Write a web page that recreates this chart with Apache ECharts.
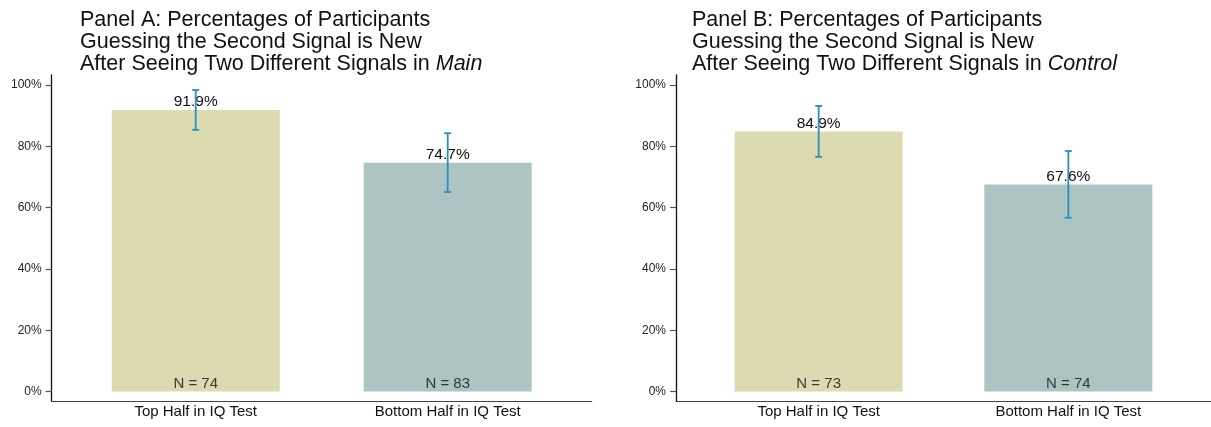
<!DOCTYPE html>
<html>
<head>
<meta charset="utf-8">
<title>Second signal guesses by IQ half</title>
<script src="https://cdn.jsdelivr.net/npm/echarts@6/dist/echarts.min.js"></script>
<style>
  html, body { margin: 0; padding: 0; background: #ffffff; }
  #chart { width: 1211px; height: 427px; }
</style>
</head>
<body>
<div id="chart"></div>
<script>
// Groups on the x axis
const categories = ['Top Half in IQ Test', 'Bottom Half in IQ Test'];
const yTicks = [0, 20, 40, 60, 80, 100];

// Panel A: Main treatment
const mainShare = [91.9, 74.7];
const mainLow = [85.4, 65.1];
const mainHigh = [98.4, 84.3];
const mainN = [74, 83];

// Panel B: Control treatment
const controlShare = [84.9, 67.6];
const controlLow = [76.6, 56.7];
const controlHigh = [93.2, 78.5];
const controlN = [73, 74];

const barColors = ['#dcdab0', '#adc5c2'];
const errColor = '#2b8fba';
const FONT = '"Liberation Sans", Arial, Helvetica, sans-serif';

const chart = echarts.init(document.getElementById('chart'), null, { renderer: 'canvas' });

const gridLefts = [51.7, 676];
const titleLefts = [75, 687];

function panelTitle(idx, word) {
  return {
    left: titleLefts[idx],
    top: 4,
    text: 'Panel ' + (idx === 0 ? 'A' : 'B') + ': Percentages of Participants\n' +
          'Guessing the Second Signal is New\n' +
          'After Seeing Two Different Signals in {it|' + word + '}',
    textStyle: {
      fontFamily: FONT,
      fontSize: 21.5,
      fontWeight: 'normal',
      color: '#111',
      lineHeight: 22,
      rich: {
        it: { fontFamily: FONT, fontSize: 21.5, fontStyle: 'italic', color: '#111', lineHeight: 22 }
      }
    }
  };
}

function panelSeries(idx, share, low, high, n) {
  const pos = categories.map((_, i) => i + 1);
  return [
    {
      type: 'bar',
      xAxisIndex: idx,
      yAxisIndex: idx,
      barWidth: 168,
      data: pos.map((x, i) => ({ value: [x, share[i]], itemStyle: { color: barColors[i] } })),
      label: {
        show: true,
        position: 'top',
        distance: 0,
        fontFamily: FONT,
        fontSize: 15.5,
        color: '#111',
        formatter: p => p.value[1].toFixed(1) + '%'
      },
      z: 2
    },
    {
      // sample size written at the foot of each bar
      type: 'scatter',
      xAxisIndex: idx,
      yAxisIndex: idx,
      symbolSize: 0,
      data: pos.map((x, i) => ({ value: [x, 0], n: n[i] })),
      label: {
        show: true,
        position: 'top',
        distance: 0,
        fontFamily: FONT,
        fontSize: 15,
        color: '#111',
        formatter: p => 'N = ' + p.data.n
      },
      silent: true,
      z: 3
    },
    {
      // confidence interval whiskers
      type: 'custom',
      xAxisIndex: idx,
      yAxisIndex: idx,
      data: pos.map((x, i) => [x, low[i], high[i]]),
      encode: { x: 0, y: [1, 2] },
      renderItem: (params, api) => {
        const x = api.value(0);
        const top = api.coord([x, api.value(2)]);
        const bot = api.coord([x, api.value(1)]);
        const cap = 3.5;
        const style = { stroke: errColor, lineWidth: 1.8 };
        return {
          type: 'group',
          children: [
            { type: 'line', shape: { x1: top[0], y1: top[1], x2: bot[0], y2: bot[1] }, style },
            { type: 'line', shape: { x1: top[0] - cap, y1: top[1], x2: top[0] + cap, y2: top[1] }, style },
            { type: 'line', shape: { x1: bot[0] - cap, y1: bot[1], x2: bot[0] + cap, y2: bot[1] }, style }
          ]
        };
      },
      z: 10
    }
  ];
}

function xAxisFor(idx) {
  return {
    type: 'value',
    gridIndex: idx,
    min: 3 / 7,
    max: 18 / 7,
    axisLine: { show: true, onZero: false, lineStyle: { color: '#444', width: 1.2 } },
    axisTick: { show: false },
    splitLine: { show: false },
    axisLabel: {
      customValues: categories.map((_, i) => i + 1),
      formatter: v => categories[Math.round(v) - 1],
      fontFamily: FONT,
      fontSize: 15,
      color: '#111',
      margin: 3
    }
  };
}

function yAxisFor(idx) {
  return {
    type: 'value',
    gridIndex: idx,
    min: -3.1,
    max: 103.3,
    axisLine: { show: true, onZero: false, lineStyle: { color: '#111', width: 1.3 } },
    axisTick: { show: true, customValues: yTicks, length: 6, lineStyle: { color: '#555', width: 1.2 } },
    splitLine: { show: false },
    axisLabel: {
      customValues: yTicks,
      formatter: '{value}%',
      fontFamily: FONT,
      fontSize: 12,
      color: '#222',
      margin: 10
    }
  };
}

chart.setOption({
  animation: false,
  backgroundColor: '#ffffff',
  title: [panelTitle(0, 'Main'), panelTitle(1, 'Control')],
  grid: gridLefts.map(l => ({ left: l, top: 75, width: 540, height: 326, containLabel: false })),
  xAxis: [xAxisFor(0), xAxisFor(1)],
  yAxis: [yAxisFor(0), yAxisFor(1)],
  series: [
    ...panelSeries(0, mainShare, mainLow, mainHigh, mainN),
    ...panelSeries(1, controlShare, controlLow, controlHigh, controlN)
  ]
});
</script>
</body>
</html>
